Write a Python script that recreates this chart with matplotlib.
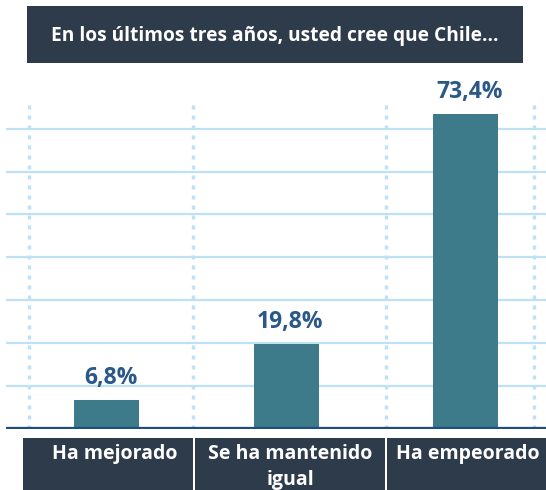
import matplotlib.pyplot as plt
from matplotlib.patches import Rectangle

# data
categories = ["Ha mejorado", "Se ha mantenido\nigual", "Ha empeorado"]
values = [6.8, 19.8, 73.4]
value_labels = ["6,8%", "19,8%", "73,4%"]
grid_values = [10, 20, 30, 40, 50, 60, 70]
title = "En los últimos tres años, usted cree que Chile..."

# colors
dark_box = "#2e3b4a"
bar_color = "#3d7b8b"
value_color = "#2a5887"
base_color = "#1f4e7d"
grid_color = "#bfe1f6"

W, H = 546, 490
fig = plt.figure(figsize=(W / 100, H / 100), dpi=100)
plt.rcParams["font.family"] = ["Open Sans", "DejaVu Sans"]


def px_rect(x0, y0, x1, y1, color):
    # rectangle given in pixel coords from top-left
    fig.patches.append(Rectangle((x0 / W, 1 - y1 / H), (x1 - x0) / W, (y1 - y0) / H,
                                 transform=fig.transFigure, facecolor=color,
                                 edgecolor="none", zorder=0))


# title box
px_rect(27, 6, 523, 63, dark_box)
fig.text(275 / W, 1 - 36.5 / H, title, ha="center", va="center", color="white",
         fontsize=13.8, fontweight="bold")

# plot area
ax = fig.add_axes([6 / W, 1 - 429 / H, 540 / W, 343.2 / H])
ax.set_ylim(0, 80)
ax.set_xlim(-0.56, 2.448)
for side in ax.spines:
    ax.spines[side].set_visible(False)
ax.set_xticks([])
ax.set_yticks([])

for g in grid_values:
    ax.axhline(g, color=grid_color, lw=1.6, zorder=1)

for xv in [-0.432, 0.482, 1.557, 2.382]:
    ax.axvline(xv, ymin=0, ymax=76.7 / 80, color=grid_color, lw=2.4,
               linestyle=(0, (1.2, 1.8)), zorder=1)

x = list(range(len(values)))
ax.bar(x, values, width=0.362, color=bar_color, zorder=2)
ax.axhline(0, color=base_color, lw=3.8, zorder=3)

for xi, v, lab in zip(x, values, value_labels):
    ax.annotate(lab, (xi, v), xytext=(3, 7), textcoords="offset points",
                ha="center", va="bottom", color=value_color,
                fontsize=16.5, fontweight="bold")

# category boxes
px_rect(23, 438, 193, 490, dark_box)
px_rect(195, 438, 385, 490, dark_box)
px_rect(387, 438, 546, 490, dark_box)
label_x = [114.5, 290, 468]
for lx, cat in zip(label_x, categories):
    fig.text(lx / W, 1 - 444 / H, cat, ha="center", va="top", color="white",
             fontsize=14, fontweight="bold", linespacing=1.4,
             multialignment="center")

fig.savefig("out.png", dpi=100)
